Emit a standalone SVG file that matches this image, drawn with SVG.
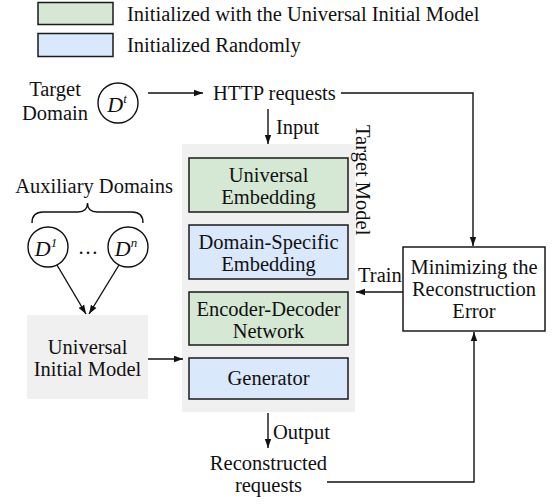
<svg xmlns="http://www.w3.org/2000/svg" width="553" height="504" viewBox="0 0 553 504" font-family="'Liberation Serif', 'Times New Roman', Times, 'DejaVu Serif', serif">
<style>
text{font-family:'Liberation Serif','Times New Roman',Times,'DejaVu Serif',serif;font-size:20.5px;fill:#111}
.c{text-anchor:middle}
.box{stroke:#1a1a1a;stroke-width:1.5}
.g{fill:#d5e8d4}
.b{fill:#dae8fc}
.gray{fill:#f0f0f0}
.ln{fill:none;stroke:#111;stroke-width:1.4}
.circ{fill:#fff;stroke:#111;stroke-width:1.4}
.it{font-style:italic;font-size:22px}
.sup{font-size:13px}
</style>
<defs>
<marker id="ah" markerWidth="9" markerHeight="8" refX="9" refY="4" orient="auto" markerUnits="userSpaceOnUse">
<path d="M0,0.8 L9,4 L0,7.2 Z" fill="#111"/>
</marker>
</defs>

<g id="legend">
<rect class="box g" x="38" y="2.5" width="75" height="22"/>
<text x="127" y="20.5">Initialized with the Universal Initial Model</text>
<rect class="box b" x="38" y="33.5" width="75" height="23"/>
<text x="127" y="52">Initialized Randomly</text>
</g>

<g id="target-domain">
<text class="c" x="55" y="96">Target</text>
<text class="c" x="55" y="120">Domain</text>
<circle class="circ" cx="118" cy="103" r="20"/>
<text class="c it" x="117" y="112">D<tspan class="sup" dy="-9">t</tspan></text>
</g>

<g id="http-requests">
<text x="213" y="100">HTTP requests</text>
</g>

<g id="auxiliary-domains">
<text class="c" x="94" y="193">Auxiliary Domains</text>
<path class="ln" d="M32,223 Q32,212 43,212 L78,212 Q87.5,212 87.5,203 Q87.5,212 97,212 L132,212 Q143,212 143,223"/>
<circle class="circ" cx="48" cy="247" r="20"/>
<text class="c it" x="46" y="256">D<tspan class="sup" dy="-9">1</tspan></text>
<text class="c" x="88" y="254">…</text>
<circle class="circ" cx="128" cy="247" r="20"/>
<text class="c it" x="126" y="256">D<tspan class="sup" dy="-9">n</tspan></text>
</g>

<g id="universal-initial-model">
<rect class="gray" x="27" y="315" width="121" height="84"/>
<text class="c" x="87.5" y="354">Universal</text>
<text class="c" x="87.5" y="376">Initial Model</text>
</g>

<g id="target-model">
<rect class="gray" x="182" y="144" width="173" height="268"/>
<text transform="translate(356,125) rotate(90)" font-size="20">Target Model</text>
</g>

<g id="universal-embedding">
<rect class="box g" x="189" y="158" width="159" height="54"/>
<text class="c" x="268.5" y="182">Universal</text>
<text class="c" x="268.5" y="204">Embedding</text>
</g>

<g id="domain-specific-embedding">
<rect class="box b" x="189" y="225" width="159" height="54"/>
<text class="c" x="268.5" y="249">Domain-Specific</text>
<text class="c" x="268.5" y="271">Embedding</text>
</g>

<g id="encoder-decoder">
<rect class="box g" x="189" y="292" width="159" height="53"/>
<text class="c" x="268.5" y="316">Encoder-Decoder</text>
<text class="c" x="268.5" y="338">Network</text>
</g>

<g id="generator">
<rect class="box b" x="189" y="358" width="159" height="41"/>
<text class="c" x="268.5" y="385">Generator</text>
</g>

<g id="minimizing">
<rect class="box" fill="#fff" x="403" y="247" width="142" height="84"/>
<text class="c" x="474" y="274">Minimizing the</text>
<text class="c" x="474" y="296">Reconstruction</text>
<text class="c" x="474" y="318">Error</text>
</g>

<g id="reconstructed-requests">
<text class="c" x="268.5" y="470">Reconstructed</text>
<text class="c" x="268.5" y="492">requests</text>
</g>

<g id="connectors">
<line class="ln" x1="148" y1="93" x2="203" y2="93" marker-end="url(#ah)"/>
<polyline class="ln" points="341,93 473,93 473,246" marker-end="url(#ah)"/>
<line class="ln" x1="268" y1="109" x2="268" y2="144" marker-end="url(#ah)"/>
<text x="276" y="134">Input</text>
<line class="ln" x1="403" y1="292" x2="356" y2="292" marker-end="url(#ah)"/>
<text x="358" y="282">Train</text>
<line class="ln" x1="57" y1="265" x2="86" y2="314" marker-end="url(#ah)"/>
<line class="ln" x1="119" y1="265" x2="89" y2="314" marker-end="url(#ah)"/>
<line class="ln" x1="148" y1="359" x2="183" y2="359" marker-end="url(#ah)"/>
<line class="ln" x1="268" y1="413" x2="268" y2="448" marker-end="url(#ah)"/>
<text x="273" y="439">Output</text>
<polyline class="ln" points="327,482 474,482 474,332" marker-end="url(#ah)"/>
</g>
</svg>
